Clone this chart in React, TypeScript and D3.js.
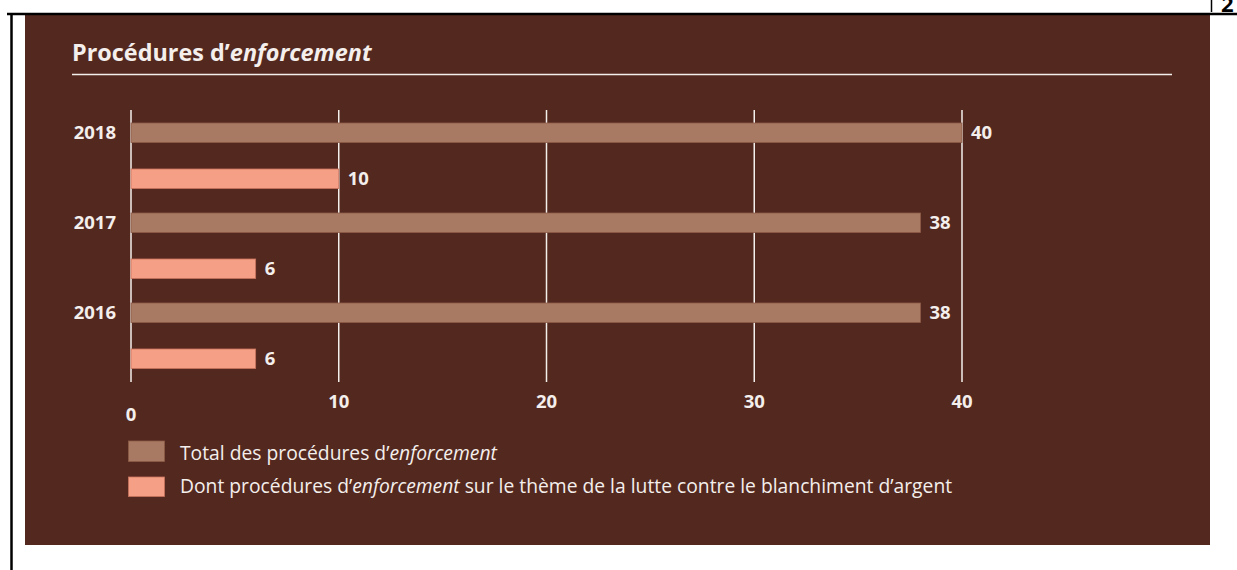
import React from 'react'
import { scaleLinear, scaleBand } from 'd3'

const years = ['2018', '2017', '2016']
const totals = [40, 38, 38]
const amlCounts = [10, 6, 6]
const xTicks = [0, 10, 20, 30, 40]
const seriesKeys = ['total', 'aml']
const legendLabels = ['Total des procédures d’', 'Dont procédures d’']

const BG = '#53281f'
const TOTAL_FILL = '#a87963'
const AML_FILL = '#f5a086'
const TEXT = '#f4efec'
const FONT = '"Open Sans", "Noto Sans", sans-serif'

const App = () => {
  const width = 1237
  const height = 570

  const xScale = scaleLinear().domain([0, 40]).range([131, 962])
  const yScale = scaleBand().domain(years).range([123, 393])
  const inner = scaleBand().domain(seriesKeys).range([0, 65.5]).paddingInner(0.576)
  const barH = inner.bandwidth()
  const labelSize = 18.5

  const rows = years.map((year, i) => ({ year, total: totals[i], aml: amlCounts[i] }))

  return (
    <svg width={width} height={height} style={{ position: 'absolute', left: 0, top: 0 }} fontFamily={FONT}>
      <rect x={0} y={0} width={width} height={height} fill='#fff' />
      {/* page frame */}
      <rect x={25} y={15} width={1185} height={530} fill={BG} />
      <line x1={7} x2={1237} y1={14} y2={14} stroke='#000' strokeWidth={2.5} />
      <line x1={11.5} x2={11.5} y1={13} y2={570} stroke='#000' strokeWidth={2.5} />
      <line x1={1211.5} x2={1211.5} y1={0} y2={12} stroke='#000' strokeWidth={1.5} />
      <text x={1221} y={12} fontSize={22} fontWeight='bold' fill='#000'>2</text>

      {/* title */}
      <text x={72} y={61} fontSize={23.4} fontWeight='bold' fill={TEXT}>
        Procédures d’<tspan fontStyle='italic'>enforcement</tspan>
      </text>
      <line x1={72} x2={1172} y1={74.5} y2={74.5} stroke={TEXT} strokeWidth={1.5} />

      {/* grid */}
      {xTicks.map(t => (
        <g key={t}>
          <line x1={xScale(t)} x2={xScale(t)} y1={110} y2={382} stroke={TEXT} strokeWidth={1.5} />
          <text
            x={xScale(t)}
            y={t === 0 ? 420.5 : 408}
            textAnchor='middle'
            fontSize={labelSize}
            fontWeight='bold'
            fill={TEXT}
          >{t}</text>
        </g>
      ))}

      {/* bars */}
      {rows.map(d => {
        const y0 = yScale(d.year)
        const yT = y0 + inner('total')
        const yA = y0 + inner('aml')
        return (
          <g key={d.year}>
            <text x={116} y={yT + barH / 2 + 6.5} textAnchor='end' fontSize={labelSize} fontWeight='bold' fill={TEXT}>{d.year}</text>
            <rect x={xScale(0)} y={yT} width={xScale(d.total) - xScale(0)} height={barH} fill={TOTAL_FILL} stroke='#8d5c48' strokeWidth={0.8} />
            <text x={xScale(d.total) + 9} y={yT + barH / 2 + 6.5} fontSize={labelSize} fontWeight='bold' fill={TEXT}>{d.total}</text>
            <rect x={xScale(0)} y={yA} width={xScale(d.aml) - xScale(0)} height={barH} fill={AML_FILL} stroke='#c8735c' strokeWidth={0.8} />
            <text x={xScale(d.aml) + 9} y={yA + barH / 2 + 6.5} fontSize={labelSize} fontWeight='bold' fill={TEXT}>{d.aml}</text>
          </g>
        )
      })}

      {/* legend */}
      <rect x={128.5} y={441} width={36} height={20.5} fill={TOTAL_FILL} stroke='#8d5c48' strokeWidth={0.8} />
      <text x={180} y={460} fontSize={19.3} fill={TEXT}>
        {legendLabels[0]}<tspan fontStyle='italic'>enforcement</tspan>
      </text>
      <rect x={128.5} y={477} width={36} height={19.5} fill={AML_FILL} stroke='#c8735c' strokeWidth={0.8} />
      <text x={180} y={493} fontSize={19.3} fill={TEXT}>
        {legendLabels[1]}<tspan fontStyle='italic'>enforcement</tspan> sur le thème de la lutte contre le blanchiment d’argent
      </text>
    </svg>
  )
}

export default App
